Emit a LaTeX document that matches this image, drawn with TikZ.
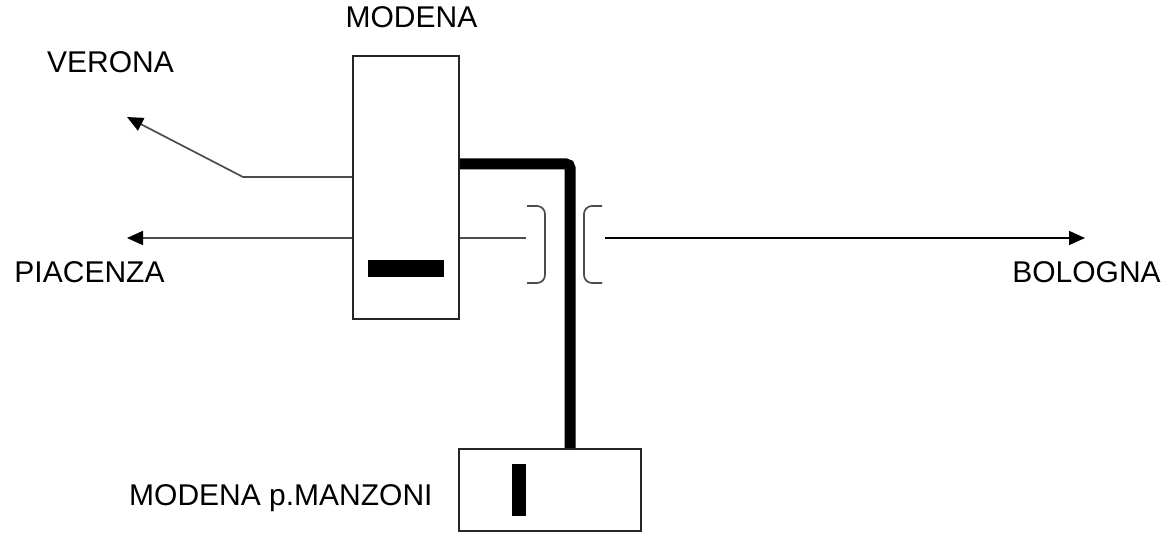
\documentclass[tikz,border=0pt]{standalone}
\usepackage{fontspec}
\setmainfont{Liberation Sans}
\usetikzlibrary{arrows.meta}
\tikzset{
  station/.style={draw=black!85, line width=0.8pt, inner sep=0pt},
  track/.style={draw=black!70, line width=0.85pt},
  route/.style={track, -{Triangle[length=8pt,width=7pt,color=black]}},
  link/.style={line width=5.5pt, rounded corners=2pt},
  lever/.style={fill=black},
  place/.style={font=\fontsize{15}{18}\selectfont, inner sep=0pt, anchor=base}
}
\begin{document}
\begin{tikzpicture}[x=0.5pt,y=-0.5pt]
            \useasboundingbox (0,0) rectangle (1169,540);
            
            % Station boxes
            \node [station, minimum width=53pt, minimum height=131.5pt] (modena) at (406,187.5) {};%
            \node [station, minimum width=91pt, minimum height=41pt] (manzoni) at (550,490) {};%
            
            % Levers inside the boxes
            \fill [lever] (368,260) rectangle (444,277);%
            \fill [lever] (512,464) rectangle (526,516);%
            
            % Marking the ends of the lines
            \coordinate (verona) at (127,117);%
            \coordinate (bend) at (243,177);%
            \coordinate (piacenza) at (127,238);%
            \coordinate (bologna) at (1085,238);%
            \coordinate (knee) at (570,164);%
            
            % Drawing line to VERONA
            \draw [route] (modena.west |- bend) -- (bend) -- (verona);%
            
            % Drawing line to PIACENZA
            \draw [route] (modena.west |- piacenza) -- (piacenza);%
            \draw [track] (modena.east |- piacenza) -- (526,238);%
            
            % Drawing the bridge
            \draw [track, rounded corners=4pt] (527,206) -- (545,206) -- (545,283) -- (527,283);%
            \draw [track, rounded corners=4pt] (602,206) -- (584,206) -- (584,283) -- (602,283);%
            
            % Drawing line to BOLOGNA
            \draw [route, draw=black] (605,238) -- (bologna);%
            
            % Drawing link MODENA p.MANZONI
            \draw [link] (modena.east |- knee) -- (knee) -- (knee |- manzoni.north);%
            
            % Labels
            \node [place] (lmodena) at (411.5,28) {MODENA};%
            \node [place] (lverona) at (110.5,73) {VERONA};%
            \node [place] (lpiacenza) at (89.5,283) {PIACENZA};%
            \node [place] (lbologna) at (1086.5,283) {BOLOGNA};%
            \node [place, anchor=base east] (lmanzoni) at (433,505) {MODENA p.MANZONI};%
        \end{tikzpicture}
\end{document}
